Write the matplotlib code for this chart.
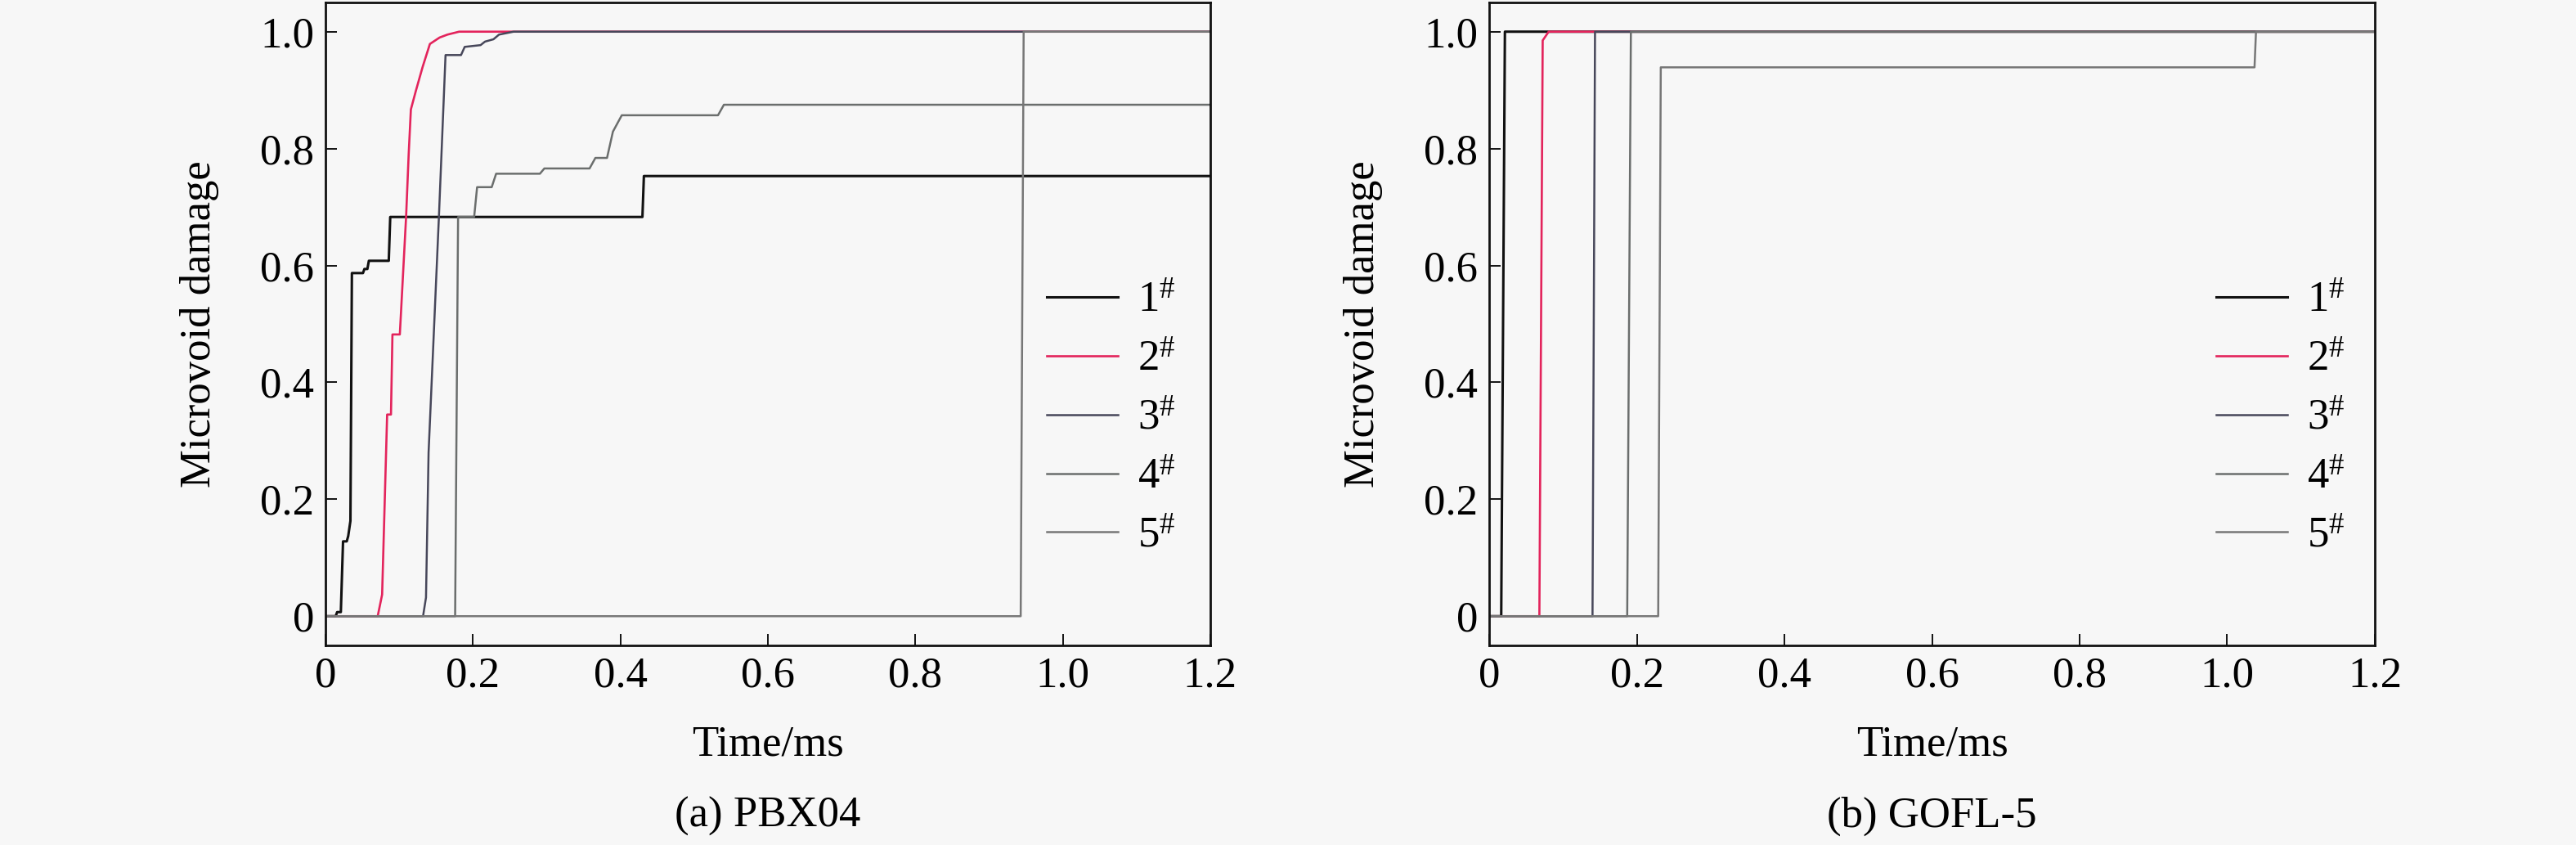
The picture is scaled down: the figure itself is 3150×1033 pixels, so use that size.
import matplotlib
matplotlib.use('Agg')
import matplotlib.pyplot as plt
from matplotlib.ticker import FuncFormatter

plt.rcParams['font.family'] = ['Liberation Serif', 'DejaVu Serif']
plt.rcParams['mathtext.fontset'] = 'custom'
plt.rcParams['mathtext.rm'] = 'Liberation Serif'
plt.rcParams['mathtext.it'] = 'Liberation Serif:italic'
plt.rcParams['mathtext.bf'] = 'Liberation Serif:bold'

# 数据 (a) PBX04
t1a = [0, 0.014, 0.016, 0.021, 0.024, 0.029, 0.031, 0.034, 0.036, 0.051, 0.053, 0.057, 0.059, 0.086, 0.088, 0.430, 0.432, 1.2]
d1a = [0, 0, 0.007, 0.007, 0.128, 0.128, 0.137, 0.163, 0.587, 0.587, 0.594, 0.594, 0.608, 0.608, 0.683, 0.683, 0.753, 0.753]
t2a = [0, 0.071, 0.077, 0.0838, 0.089, 0.091, 0.101, 0.1095, 0.113, 0.116, 0.1228, 0.132, 0.1418, 0.155, 0.1656, 0.1814, 1.2]
d2a = [0, 0, 0.037, 0.345, 0.345, 0.482, 0.482, 0.683, 0.79, 0.867, 0.899, 0.94, 0.979, 0.99, 0.995, 1.0, 1.0]
t3a = [0, 0.1325, 0.1365, 0.140, 0.154, 0.163, 0.184, 0.189, 0.2105, 0.2165, 0.228, 0.2355, 0.2553, 1.2]
d3a = [0, 0, 0.032, 0.28, 0.683, 0.960, 0.960, 0.974, 0.977, 0.983, 0.987, 0.995, 1.0, 1.0]
t4a = [0, 0.176, 0.180, 0.2018, 0.2058, 0.2256, 0.2316, 0.291, 0.297, 0.3583, 0.3662, 0.382, 0.390, 0.402, 0.5325, 0.5405, 1.2]
d4a = [0, 0, 0.683, 0.683, 0.734, 0.734, 0.757, 0.757, 0.766, 0.766, 0.784, 0.784, 0.829, 0.857, 0.857, 0.875, 0.875]
t5a = [0, 0.943, 0.947, 1.2]
d5a = [0, 0, 1.0, 1.0]

# 数据 (b) GOFL-5
t1b = [0, 0.0163, 0.0213, 1.2]
d1b = [0, 0, 1.0, 1.0]
t2b = [0, 0.068, 0.0725, 0.0806, 1.2]
d2b = [0, 0, 0.985, 1.0, 1.0]
t3b = [0, 0.140, 0.1434, 1.2]
d3b = [0, 0, 1.0, 1.0]
t4b = [0, 0.187, 0.192, 1.2]
d4b = [0, 0, 1.0, 1.0]
t5b = [0, 0.229, 0.2325, 1.037, 1.039, 1.2]
d5b = [0, 0, 0.939, 0.939, 1.0, 1.0]

labels = ['1$^{\\mathrm{\\#}}$', '2$^{\\mathrm{\\#}}$', '3$^{\\mathrm{\\#}}$',
          '4$^{\\mathrm{\\#}}$', '5$^{\\mathrm{\\#}}$']
colors = ['#111111', '#e3245c', '#47475a', '#6b6e6d', '#777777']
widths = [2.2, 1.9, 1.8, 1.8, 1.8]
xticks = [0, 0.2, 0.4, 0.6, 0.8, 1.0, 1.2]
yticks = [0, 0.2, 0.4, 0.6, 0.8, 1.0]

bg = '#f7f7f7'
fs = 38

fig = plt.figure(figsize=(31.5, 10.33), dpi=100, facecolor=bg)
ax1 = fig.add_axes([0.1263, 0.2362, 0.3435, 0.7609])
ax2 = fig.add_axes([0.5781, 0.2362, 0.3438, 0.7609])

fmt = FuncFormatter(lambda v, p: '0' if abs(v) < 1e-9 else f'{v:.1f}')

panels = [
    (ax1, [(t1a, d1a), (t2a, d2a), (t3a, d3a), (t4a, d4a), (t5a, d5a)], '(a) PBX04', (0.815, 0.565)),
    (ax2, [(t1b, d1b), (t2b, d2b), (t3b, d3b), (t4b, d4b), (t5b, d5b)], '(b) GOFL-5', (0.821, 0.565)),
]

for ax, series, cap, lpos in panels:
    ax.set_facecolor(bg)
    for (t, d), lab, c, w in zip(series, labels, colors, widths):
        ax.plot(t, d, color=c, lw=w, label=lab)
    ax.set_xlim(0, 1.2)
    ax.set_ylim(-0.05, 1.05)
    ax.set_xticks(xticks)
    ax.set_yticks(yticks)
    ax.xaxis.set_major_formatter(fmt)
    ax.yaxis.set_major_formatter(fmt)
    ax.tick_params(direction='in', length=10, width=1.3, labelsize=fs, pad=10,
                   top=False, right=False)
    for s in ax.spines.values():
        s.set_linewidth(2.0)
        s.set_color('#111111')
    ax.set_xlabel('Time/ms', fontsize=fs, va='center')
    ax.xaxis.set_label_coords(0.5, -0.154)
    ax.set_ylabel('Microvoid damage', fontsize=fs, va='center')
    ax.yaxis.set_label_coords(-0.142, 0.5)
    ax.text(0.5, -0.266, cap, transform=ax.transAxes, fontsize=fs, ha='center', va='center')
    ax.legend(loc='upper left', bbox_to_anchor=lpos, frameon=False, fontsize=fs,
              handlelength=1.65, handletextpad=0.45, labelspacing=0.45,
              borderpad=0, borderaxespad=0)

fig.savefig('out.png', dpi=100, facecolor=bg)
